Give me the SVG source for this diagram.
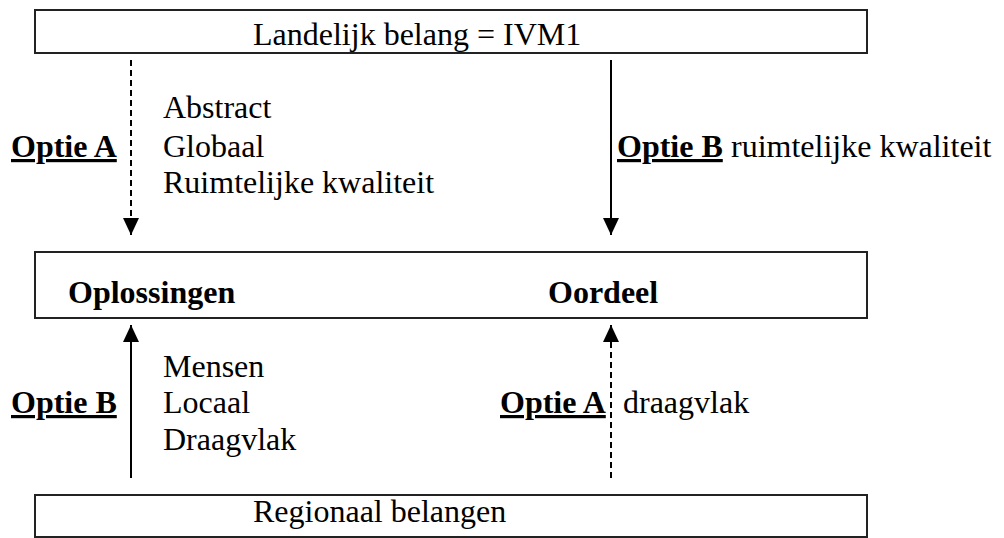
<svg xmlns="http://www.w3.org/2000/svg" width="1004" height="538" viewBox="0 0 1004 538">
<style>
text{font-size:32px;fill:#000}
.b{font-weight:bold}
.u{text-decoration:underline}
.box{fill:#fff;stroke:#222;stroke-width:2}
.c{stroke:#000;stroke-width:2;fill:none}
.d{stroke-dasharray:6,4}
</style>
<defs>
<marker id="ah" viewBox="0 0 17 16" refX="17" refY="8" markerWidth="17" markerHeight="16" markerUnits="userSpaceOnUse" orient="auto">
<path d="M0,0 L17,8 L0,16 z" fill="#000"/>
</marker>
</defs>
<rect width="1004" height="538" fill="#fff"/>
<g font-family="'Liberation Serif', 'Times New Roman', Times, serif">
<g id="landelijk">
<rect class="box" x="35" y="10" width="832" height="43"/>
<text x="253" y="45">Landelijk belang = IVM1</text>
</g>
<g id="middle">
<rect class="box" x="35" y="252" width="832" height="66"/>
<text class="b" x="68" y="303">Oplossingen</text>
<text class="b" x="548" y="303">Oordeel</text>
</g>
<g id="regionaal">
<rect class="box" x="35" y="495" width="832" height="42"/>
<text x="253" y="522">Regionaal belangen</text>
</g>
<g id="connectors">
<line class="c d" x1="131" y1="60" x2="131" y2="235" marker-end="url(#ah)"/>
<line class="c" x1="611" y1="60" x2="611" y2="235" marker-end="url(#ah)"/>
<line class="c" x1="131" y1="478" x2="131" y2="325" marker-end="url(#ah)"/>
<line class="c d" x1="611" y1="478" x2="611" y2="325" marker-end="url(#ah)"/>
</g>
<g id="labels">
<text class="b u" x="11" y="157">Optie A</text>
<text x="163" y="118">Abstract</text>
<text x="163" y="157">Globaal</text>
<text x="163" y="193">Ruimtelijke kwaliteit</text>
<text x="617" y="157"><tspan class="b u">Optie B</tspan><tspan x="731">ruimtelijke kwaliteit</tspan></text>
<text class="b u" x="11" y="413">Optie B</text>
<text x="163" y="377">Mensen</text>
<text x="163" y="413">Locaal</text>
<text x="163" y="450">Draagvlak</text>
<text class="b u" x="500" y="413">Optie A</text>
<text x="623" y="413">draagvlak</text>
</g>
</g>
</svg>
